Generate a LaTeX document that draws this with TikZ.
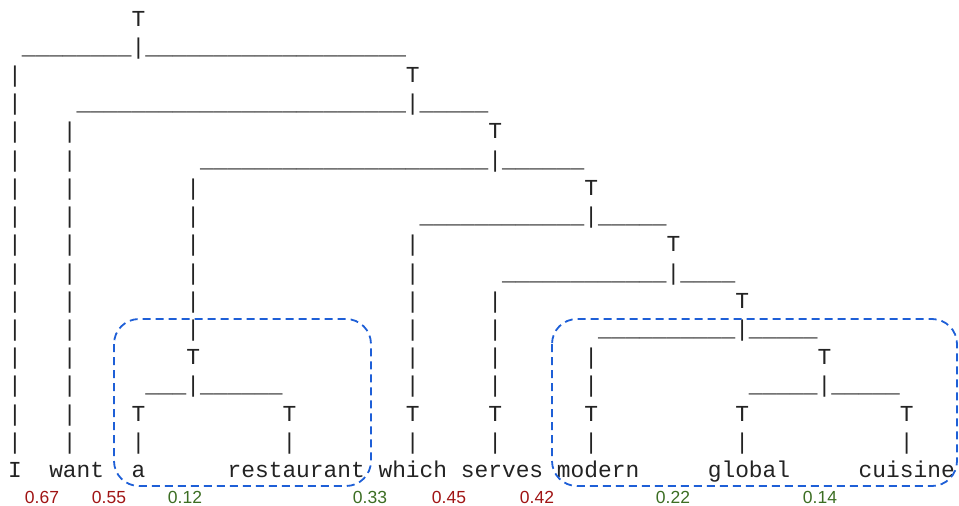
\documentclass[tikz,border=0pt]{standalone}
\usepackage{fontspec}
\newfontfamily\asciifam{Liberation Mono}
\newfontfamily\numfam{Liberation Sans}
\definecolor{boxblue}{RGB}{30,95,215}
\definecolor{scorered}{RGB}{160,20,20}
\definecolor{scoregreen}{RGB}{60,110,35}
\definecolor{inkgray}{RGB}{35,35,35}
\tikzset{
  ascii/.style={anchor=base west, inner sep=0pt, outer sep=0pt, text=inkgray,
    font={\asciifam\fontsize{22.87}{24}\selectfont}},
  score/.style={anchor=center, inner sep=0pt, font={\numfam\fontsize{17.5}{18}\selectfont}},
  hlbox/.style={draw=boxblue, line width=1.8pt, dash pattern=on 8pt off 5pt, rounded corners=25pt}
}
\newcommand\gl[3]{\node[ascii] (g#2x#1) at ({8.1+#1*13.72},{26+(#2-1)*28.23}) {#3};}
\newcommand\ul[3]{\foreach \c in {#2,...,#3}{\gl{\c}{#1}{\_}}}
\newcommand\pipes[2]{\foreach \c in {#2}{\gl{\c}{#1}{|}}}
\newcommand\tees[2]{\foreach \c in {#2}{\gl{\c}{#1}{T}}}
\begin{document}
\begin{tikzpicture}[x=1pt,y=-1pt]
\useasboundingbox (0,0) rectangle (959,506);
% row 1
\tees{1}{9}
% row 2
\ul{2}{1}{8} \pipes{2}{9} \ul{2}{10}{28}
% row 3
\pipes{3}{0} \tees{3}{29}
% row 4
\pipes{4}{0} \ul{4}{5}{28} \pipes{4}{29} \ul{4}{30}{34}
% row 5
\pipes{5}{0,4} \tees{5}{35}
% row 6
\pipes{6}{0,4} \ul{6}{14}{34} \pipes{6}{35} \ul{6}{36}{41}
% row 7
\pipes{7}{0,4,13} \tees{7}{42}
% row 8
\pipes{8}{0,4,13} \ul{8}{30}{41} \pipes{8}{42} \ul{8}{43}{47}
% row 9
\pipes{9}{0,4,13,29} \tees{9}{48}
% row 10
\pipes{10}{0,4,13,29} \ul{10}{36}{47} \pipes{10}{48} \ul{10}{49}{52}
% row 11
\pipes{11}{0,4,13,29,35} \tees{11}{53}
% row 12
\pipes{12}{0,4,13,29,35} \ul{12}{43}{52} \pipes{12}{53} \ul{12}{54}{58}
% row 13
\pipes{13}{0,4,29,35,42} \tees{13}{13,59}
% row 14
\pipes{14}{0,4,13,29,35,42,59} \ul{14}{10}{12} \ul{14}{14}{19} \ul{14}{54}{58} \ul{14}{60}{64}
% row 15
\pipes{15}{0,4} \tees{15}{9,20,29,35,42,53,65}
% row 16
\pipes{16}{0,4,9,20,29,35,42,53,65}
% row 17: words
\gl{0}{17}{I}
\gl{3}{17}{want}
\gl{9}{17}{a}
\gl{16}{17}{restaurant}
\gl{27}{17}{which}
\gl{33}{17}{serves}
\gl{40}{17}{modern}
\gl{51}{17}{global}
\gl{62}{17}{cuisine}
% highlight boxes
\draw[hlbox] (114,319) rectangle (371,486);
\draw[hlbox] (552,319) rectangle (957,486);
% scores
\node[score, text=scorered]   (s1) at (42,497)  {0.67};
\node[score, text=scorered]   (s2) at (109,497) {0.55};
\node[score, text=scoregreen] (s3) at (185,497) {0.12};
\node[score, text=scoregreen] (s4) at (370,497) {0.33};
\node[score, text=scorered]   (s5) at (449,497) {0.45};
\node[score, text=scorered]   (s6) at (537,497) {0.42};
\node[score, text=scoregreen] (s7) at (673,497) {0.22};
\node[score, text=scoregreen] (s8) at (820,497) {0.14};
\end{tikzpicture}
\end{document}
